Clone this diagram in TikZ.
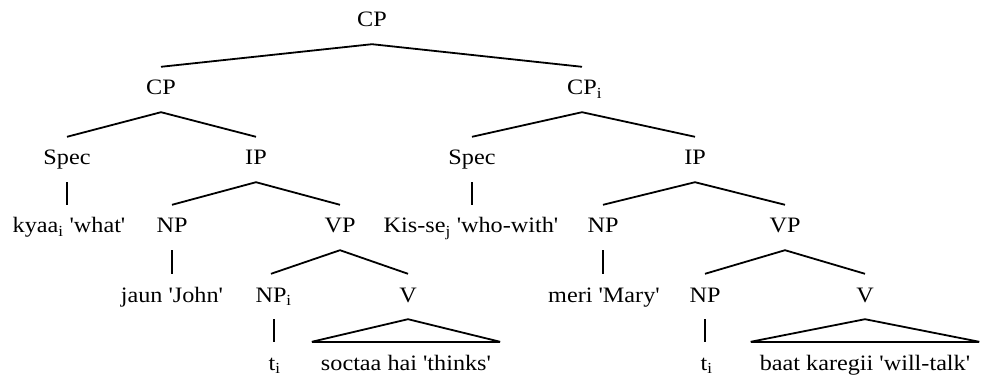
\documentclass[tikz,border=0pt]{standalone}
\usepackage{fontspec}
\setmainfont{Liberation Serif}[Ligatures=TeXOff,FakeStretch=1.1]
\newcommand{\sbi}[1]{\rlap{\textsubscript{#1}}}
\begin{document}
\begin{tikzpicture}[x=1pt,y=-1pt,
  every node/.style={font=\fontsize{22}{26}\selectfont},
  lbl/.style={anchor=base,inner xsep=2pt,inner ysep=0pt,text height=28pt,text depth=17pt},
  roof/.style={lbl,inner xsep=9pt},
  branch/.style={line width=1.8pt},
  base/.style={line width=2.6pt}]
\useasboundingbox (0,0) rectangle (987,379);
% labels, placed on their baselines
\node[lbl] (cp0)   at (372,27)  {CP};
\node[lbl] (cp1)   at (161,95)  {CP};
\node[lbl] (cp2)   at (582,95)  {CP\sbi{i}};
\node[lbl] (spec1) at (67,165)  {Spec};
\node[lbl] (ip1)   at (256,165) {IP};
\node[lbl] (spec2) at (472,165) {Spec};
\node[lbl] (ip2)   at (695,165) {IP};
\node[lbl] (kyaa)  at (69,233)  {kyaa\textsubscript{i} 'what'};
\node[lbl] (np1)   at (172,233) {NP};
\node[lbl] (vp1)   at (340,233) {VP};
\node[lbl] (kis)   at (471,233) {Kis-se\textsubscript{j} 'who-with'};
\node[lbl] (np2)   at (603,233) {NP};
\node[lbl] (vp2)   at (785,233) {VP};
\node[lbl] (jaun)  at (172,302) {jaun 'John'};
\node[lbl] (npi)   at (271,302) {NP\sbi{i}};
\node[lbl] (v1)    at (408,302) {V};
\node[lbl] (meri)  at (604,302) {meri 'Mary'};
\node[lbl] (np3)   at (705,302) {NP};
\node[lbl] (v2)    at (865,302) {V};
\node[lbl] (t1)    at (272,370) {t\sbi{i}};
\node[roof] (socta) at (406,370) {soctaa hai 'thinks'};
\node[lbl] (t2)    at (704,370) {t\sbi{i}};
\node[roof] (baat)  at (865,370) {baat karegii 'will-talk'};
% branches
\draw[branch] (cp1.north) -- (cp0.south) -- (cp2.north);
\draw[branch] (spec1.north) -- (cp1.south) -- (ip1.north);
\draw[branch] (spec2.north) -- (cp2.south) -- (ip2.north);
\draw[branch] (np1.north) -- (ip1.south) -- (vp1.north);
\draw[branch] (np2.north) -- (ip2.south) -- (vp2.north);
\draw[branch] (npi.north) -- (vp1.south) -- (v1.north);
\draw[branch] (np3.north) -- (vp2.south) -- (v2.north);
% unary branches, kept vertical
\draw[branch] (spec1.south) -- (spec1.south |- kyaa.north);
\draw[branch] (spec2.south) -- (spec2.south |- kis.north);
\draw[branch] (np1.south) -- (np1.south |- jaun.north);
\draw[branch] (np2.south) -- (np2.south |- meri.north);
\draw[branch] ([xshift=3pt]npi.south) -- ([xshift=3pt]npi.south |- t1.north);
\draw[branch] (np3.south) -- (np3.south |- t2.north);
% roofs over unanalysed strings
\draw[branch] (socta.north west) -- (v1.south) -- (socta.north east);
\draw[base] (socta.north west) -- (socta.north east);
\draw[branch] (baat.north west) -- (v2.south) -- (baat.north east);
\draw[base] (baat.north west) -- (baat.north east);
\end{tikzpicture}
\end{document}
